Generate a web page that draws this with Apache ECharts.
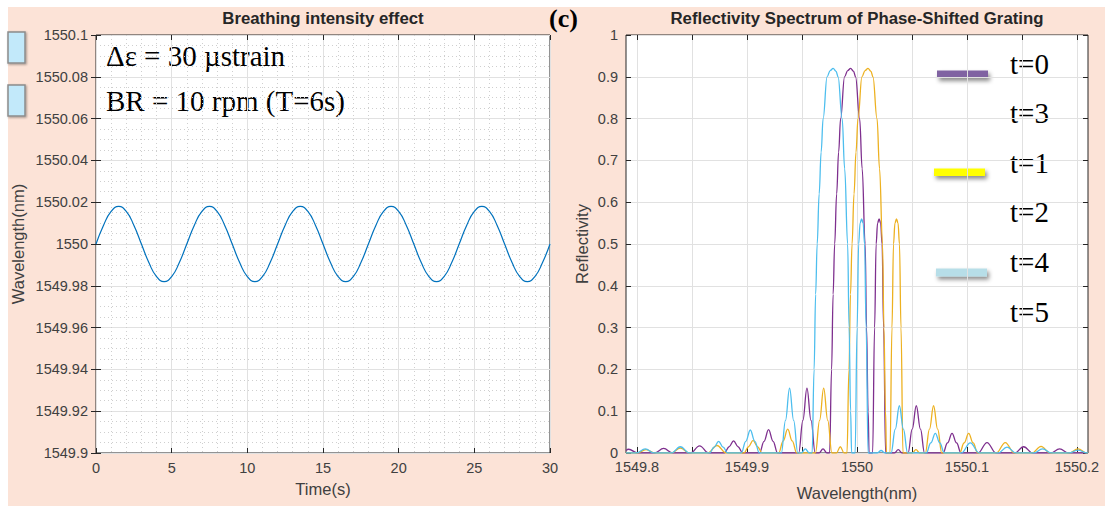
<!DOCTYPE html>
<html><head><meta charset="utf-8">
<script src="https://cdn.jsdelivr.net/npm/echarts@6/dist/echarts.min.js"></script>
<style>html,body{margin:0;padding:0;background:#fff}#c{width:1105px;height:506px}</style>
</head><body><div id="c"></div>
<script>
// ---------- Left panel data ----------
const timeS = [0,0.5,1,1.5,2,2.5,3,3.5,4,4.5,5,5.5,
  6,6.5,7,7.5,8,8.5,9,9.5,10,10.5,11,11.5,
  12,12.5,13,13.5,14,14.5,15,15.5,16,16.5,17,17.5,
  18,18.5,19,19.5,20,20.5,21,21.5,22,22.5,23,23.5,
  24,24.5,25,25.5,26,26.5,27,27.5,28,28.5,29,29.5,30];
const wavelengthNm = [
  1550,1550.009,1550.0156,1550.018,1550.0156,1550.009,1550,1549.991,1549.9844,1549.982,1549.9844,1549.991,
  1550,1550.009,1550.0156,1550.018,1550.0156,1550.009,1550,1549.991,1549.9844,1549.982,1549.9844,1549.991,
  1550,1550.009,1550.0156,1550.018,1550.0156,1550.009,1550,1549.991,1549.9844,1549.982,1549.9844,1549.991,
  1550,1550.009,1550.0156,1550.018,1550.0156,1550.009,1550,1549.991,1549.9844,1549.982,1549.9844,1549.991,
  1550,1550.009,1550.0156,1550.018,1550.0156,1550.009,1550,1549.991,1549.9844,1549.982,1549.9844,1549.991,
  1550];
const leftXTicks = ['0','5','10','15','20','25','30'];
const leftYTicks = ['1549.9','1549.92','1549.94','1549.96','1549.98','1550','1550.02','1550.04','1550.06','1550.08','1550.1'];

// ---------- Right panel data ----------
const rightXTicks = ['1549.8','','1549.9','','1550','','1550.1','','1550.2'];
const rightYTicks = ['0','0.1','0.2','0.3','0.4','0.5','0.6','0.7','0.8','0.9','1'];
const specT0 = [
  [1549.7900,0.006],[1549.7924,0.009],[1549.8006,0],
  [1549.8160,0],[1549.8242,0.011],[1549.8324,0],
  [1549.8487,0],[1549.8569,0.017],[1549.8651,0],
  [1549.8796,0],[1549.8837,0.015],[1549.8878,0.029],[1549.8919,0.015],[1549.8960,0],
  [1549.9114,0],[1549.9155,0.028],[1549.9196,0.056],[1549.9237,0.028],[1549.9278,0],
  [1549.9470,0],[1549.9508,0.078],[1549.9545,0.155],[1549.9582,0.078],[1549.9620,0],
  [1549.9656,0],[1549.9691,0.010],[1549.9726,0],
  [1549.9751,0],[1549.9769,0.2],[1549.9783,0.38],[1549.9797,0.5],[1549.9815,0.62],[1549.9833,0.72],[1549.9851,0.8],[1549.9887,0.9],[1549.9915,0.915],[1549.9942,0.92],[1549.9969,0.913],[1549.9987,0.9],[1550.0024,0.8],[1550.0047,0.68],[1550.0074,0.5],[1550.0087,0.3],[1550.0101,0.1],[1550.0110,0],
  [1550.0142,0],[1550.0160,0.3],[1550.0174,0.5],[1550.0187,0.55],[1550.0201,0.56],[1550.0215,0.55],[1550.0228,0.5],[1550.0242,0.3],[1550.0260,0],
  [1550.0340,0],[1550.0375,0.008],[1550.0410,0],
  [1550.0464,0],[1550.0502,0.057],[1550.0539,0.113],[1550.0577,0.057],[1550.0614,0],
  [1550.0782,0],[1550.0823,0.024],[1550.0864,0.047],[1550.0905,0.024],[1550.0946,0],
  [1550.1100,0],[1550.1182,0.025],[1550.1264,0],
  [1550.1433,0],[1550.1515,0.015],[1550.1597,0],
  [1550.1760,0],[1550.1842,0.010],[1550.1924,0],
  [1550.2100,0]
];
const specT1 = [
  [1549.7900,0],
  [1549.8000,0],[1549.8082,0.008],[1549.8164,0],
  [1549.8312,0],[1549.8394,0.012],[1549.8476,0],
  [1549.8645,0],[1549.8727,0.018],[1549.8809,0],
  [1549.8973,0],[1549.9014,0.015],[1549.9055,0.030],[1549.9096,0.015],[1549.9137,0],
  [1549.9288,0],[1549.9329,0.029],[1549.9370,0.057],[1549.9411,0.029],[1549.9452,0],
  [1549.9622,0],[1549.9660,0.078],[1549.9697,0.155],[1549.9734,0.078],[1549.9772,0],
  [1549.9813,0],[1549.9848,0.015],[1549.9883,0],
  [1549.9909,0],[1549.9927,0.2],[1549.9941,0.38],[1549.9955,0.5],[1549.9973,0.62],[1549.9991,0.72],[1550.0009,0.8],[1550.0045,0.9],[1550.0073,0.915],[1550.0100,0.92],[1550.0127,0.913],[1550.0145,0.9],[1550.0182,0.8],[1550.0205,0.68],[1550.0232,0.5],[1550.0245,0.3],[1550.0259,0.1],[1550.0268,0],
  [1550.0300,0],[1550.0318,0.3],[1550.0332,0.5],[1550.0345,0.55],[1550.0359,0.56],[1550.0373,0.55],[1550.0386,0.5],[1550.0400,0.3],[1550.0418,0],
  [1550.0501,0],[1550.0536,0.008],[1550.0571,0],
  [1550.0621,0],[1550.0659,0.057],[1550.0696,0.113],[1550.0733,0.057],[1550.0771,0],
  [1550.0933,0],[1550.0974,0.024],[1550.1015,0.047],[1550.1056,0.024],[1550.1097,0],
  [1550.1266,0],[1550.1348,0.025],[1550.1430,0],
  [1550.1591,0],[1550.1673,0.016],[1550.1755,0],
  [1550.1927,0],[1550.2009,0.010],[1550.2091,0],
  [1550.2100,0]
];
const specT4 = [
  [1549.7900,0],
  [1549.7993,0],[1549.8075,0.010],[1549.8157,0],
  [1549.8312,0],[1549.8394,0.015],[1549.8476,0],
  [1549.8660,0],[1549.8701,0.014],[1549.8742,0.028],[1549.8783,0.014],[1549.8824,0],
  [1549.8948,0],[1549.8989,0.028],[1549.9030,0.055],[1549.9071,0.028],[1549.9112,0],
  [1549.9312,0],[1549.9350,0.078],[1549.9387,0.155],[1549.9424,0.078],[1549.9462,0],
  [1549.9495,0],[1549.9530,0.010],[1549.9565,0],
  [1549.9592,0],[1549.9610,0.2],[1549.9624,0.38],[1549.9638,0.5],[1549.9656,0.62],[1549.9674,0.72],[1549.9692,0.8],[1549.9728,0.9],[1549.9756,0.915],[1549.9783,0.92],[1549.9810,0.913],[1549.9828,0.9],[1549.9865,0.8],[1549.9888,0.68],[1549.9915,0.5],[1549.9928,0.3],[1549.9942,0.1],[1549.9951,0],
  [1549.9983,0],[1550.0001,0.3],[1550.0015,0.5],[1550.0028,0.55],[1550.0042,0.56],[1550.0056,0.55],[1550.0069,0.5],[1550.0083,0.3],[1550.0101,0],
  [1550.0184,0],[1550.0219,0.006],[1550.0254,0],
  [1550.0310,0],[1550.0348,0.057],[1550.0385,0.113],[1550.0422,0.057],[1550.0460,0],
  [1550.0630,0],[1550.0671,0.024],[1550.0712,0.047],[1550.0753,0.024],[1550.0794,0],
  [1550.0948,0],[1550.1030,0.024],[1550.1112,0],
  [1550.1282,0],[1550.1364,0.014],[1550.1446,0],
  [1550.1605,0],[1550.1687,0.010],[1550.1769,0],
  [1550.1927,0],[1550.2009,0.007],[1550.2091,0],
  [1550.2100,0]
];
const legendLabels = ['t=0','t=3','t=1','t=2','t=4','t=5'];
const legendBarColors = ['#8064A2','#FFFF00','#B7DEE8'];

// ---------- Styles ----------
const PINK = '#FCE3D7';
const AX = '#262626';
const LBL = '#404040';
const GRIDC = '#E1E1E1';
const sans = 'Liberation Sans, Arial, sans-serif';
const serif = 'Liberation Serif, Times New Roman, serif';
const TICKFS = 14.5, NAMEFS = 16.5, TITLEFS = 16.8;

const chart = echarts.init(document.getElementById('c'), null, {renderer:'svg'});

function tickAxis(extra){
  return Object.assign({
    type:'value',
    axisLine:{show:false},
    axisTick:{show:true, inside:true, length:5, lineStyle:{color:AX}},
    axisLabel:{show:false},
    splitLine:{show:false}
  }, extra);
}

const option = {
  backgroundColor: PINK,
  animation:false,
  grid:[
    {left:96, top:35, width:454, height:418, show:true, backgroundColor:'#fff', borderColor:AX, borderWidth:1},
    {left:626, top:35, width:462, height:418, show:true, backgroundColor:'#fff', borderColor:AX, borderWidth:1},
    {left:637, top:35, width:440, height:418, show:false}
  ],
  xAxis:[
    tickAxis({gridIndex:0, min:0, max:30, interval:5, position:'bottom',
      axisLabel:{show:true, color:LBL, fontSize:TICKFS, fontFamily:sans, margin:7, showMinLabel:true, showMaxLabel:true,
        formatter:(v)=>leftXTicks[Math.round(v/5)] ?? ''},
      splitLine:{show:true, lineStyle:{color:GRIDC, width:1}},
      minorTick:{show:false, splitNumber:5},
      minorSplitLine:{show:true, lineStyle:{color:'#CFCFCF', width:1, type:[1,3]}},
      name:'Time(s)', nameLocation:'middle', nameGap:27,
      nameTextStyle:{color:LBL, fontSize:NAMEFS, fontFamily:sans}}),
    tickAxis({gridIndex:0, min:0, max:30, interval:5, position:'top'}),
    {type:'value', gridIndex:1, min:1549.79, max:1550.21, show:false},
    tickAxis({gridIndex:2, min:1549.8, max:1550.2, interval:0.05, position:'bottom',
      axisLabel:{show:true, color:LBL, fontSize:TICKFS, fontFamily:sans, margin:7, showMinLabel:true, showMaxLabel:true,
        formatter:(v)=>rightXTicks[Math.round((v-1549.8)/0.05)] ?? ''},
      splitLine:{show:true, lineStyle:{color:GRIDC, width:1}},
      name:'Wavelength(nm)', nameLocation:'middle', nameGap:32,
      nameTextStyle:{color:LBL, fontSize:NAMEFS, fontFamily:sans}}),
    tickAxis({gridIndex:2, min:1549.8, max:1550.2, interval:0.05, position:'top'})
  ],
  yAxis:[
    tickAxis({gridIndex:0, min:1549.9, max:1550.1, interval:0.02, position:'left',
      axisLabel:{show:true, color:LBL, fontSize:TICKFS, fontFamily:sans, margin:8, showMinLabel:true, showMaxLabel:true,
        formatter:(v)=>leftYTicks[Math.round((v-1549.9)/0.02)] ?? ''},
      splitLine:{show:true, lineStyle:{color:GRIDC, width:1}},
      minorTick:{show:false, splitNumber:4},
      minorSplitLine:{show:true, lineStyle:{color:'#CFCFCF', width:1, type:[1,3]}},
      name:'Wavelength(nm)', nameLocation:'middle', nameGap:70, nameRotate:90,
      nameTextStyle:{color:LBL, fontSize:NAMEFS, fontFamily:sans}}),
    tickAxis({gridIndex:0, min:1549.9, max:1550.1, interval:0.02, position:'right'}),
    tickAxis({gridIndex:1, min:0, max:1, interval:0.1, position:'left',
      axisLabel:{show:true, color:LBL, fontSize:TICKFS, fontFamily:sans, margin:8, showMinLabel:true, showMaxLabel:true,
        formatter:(v)=>rightYTicks[Math.round(v*10)] ?? ''},
      splitLine:{show:true, lineStyle:{color:GRIDC, width:1}},
      name:'Reflectivity', nameLocation:'middle', nameGap:36, nameRotate:90,
      nameTextStyle:{color:LBL, fontSize:NAMEFS, fontFamily:sans}}),
    tickAxis({gridIndex:1, min:0, max:1, interval:0.1, position:'right'}),
    {type:'value', gridIndex:2, min:0, max:1, show:false}
  ],
  series:[
    {type:'line', xAxisIndex:0, yAxisIndex:0, data: timeS.map((t,i)=>[t, wavelengthNm[i]]),
      smooth:0.5, symbol:'none', lineStyle:{color:'#0072BD', width:1.2}},
    {type:'line', name:'t=0', xAxisIndex:2, yAxisIndex:2, data:specT0, smooth:0.4, smoothMonotone:'x',
      symbol:'none', lineStyle:{color:'#7E2F8E', width:1.3}},
    {type:'line', name:'t=1', xAxisIndex:2, yAxisIndex:2, data:specT1, smooth:0.4, smoothMonotone:'x',
      symbol:'none', lineStyle:{color:'#EDB120', width:1.3}},
    {type:'line', name:'t=4', xAxisIndex:2, yAxisIndex:2, data:specT4, smooth:0.4, smoothMonotone:'x',
      symbol:'none', lineStyle:{color:'#4DBEEE', width:1.3}}
  ],
  graphic:[
    {type:'rect', shape:{x:0,y:0,width:1105,height:7}, style:{fill:'#fff'}, silent:true},
    {type:'rect', shape:{x:0,y:0,width:8,height:506}, style:{fill:'#fff'}, silent:true},
    {type:'rect', shape:{x:8,y:32,width:17,height:31}, style:{fill:'#C2E9FA', stroke:'#8C8C8C', lineWidth:1.5, shadowBlur:2, shadowOffsetX:1, shadowOffsetY:1, shadowColor:'rgba(0,0,0,0.35)'}},
    {type:'rect', shape:{x:8,y:85,width:17,height:31}, style:{fill:'#C2E9FA', stroke:'#8C8C8C', lineWidth:1.5, shadowBlur:2, shadowOffsetX:1, shadowOffsetY:1, shadowColor:'rgba(0,0,0,0.35)'}},
    {type:'text', x:323, y:18, style:{text:'Breathing intensity effect', fontSize:TITLEFS, fontWeight:'bold', fontFamily:sans, fill:'#262626', align:'center', verticalAlign:'middle'}},
    {type:'text', x:857, y:18, style:{text:'Reflectivity Spectrum of Phase-Shifted Grating', fontSize:TITLEFS, fontWeight:'bold', fontFamily:sans, fill:'#262626', align:'center', verticalAlign:'middle'}},
    {type:'text', x:549, y:18, style:{text:'(c)', fontSize:26, fontWeight:'bold', fontFamily:serif, fill:'#000', align:'left', verticalAlign:'middle'}},
    {type:'text', x:106, y:56, style:{text:'\u0394\u03B5 = 30 \u00B5strain', fontSize:29, fontFamily:serif, fill:'#000', align:'left', verticalAlign:'middle'}},
    {type:'text', x:106, y:101, style:{text:'BR = 10 rpm (T=6s)', fontSize:29, fontFamily:serif, fill:'#000', align:'left', verticalAlign:'middle'}},
    {type:'rect', shape:{x:937,y:70.5,width:51,height:7.5}, style:{fill:legendBarColors[0], shadowBlur:4, shadowOffsetX:2, shadowOffsetY:3, shadowColor:'rgba(0,0,0,0.45)'}},
    {type:'rect', shape:{x:934,y:168.5,width:51,height:7.5}, style:{fill:legendBarColors[1], shadowBlur:4, shadowOffsetX:2, shadowOffsetY:3, shadowColor:'rgba(0,0,0,0.45)'}},
    {type:'rect', shape:{x:936,y:268.5,width:51,height:8}, style:{fill:legendBarColors[2], shadowBlur:4, shadowOffsetX:2, shadowOffsetY:3, shadowColor:'rgba(0,0,0,0.45)'}}
  ].concat(legendLabels.map((s,i)=>({type:'text', x:1010, y:[63.8,113.2,162.8,212.2,262.2,311.5][i],
      style:{text:s, fontSize:29, fontFamily:serif, fill:'#000', align:'left', verticalAlign:'middle'}})))
};
chart.setOption(option);
</script>
</body></html>
